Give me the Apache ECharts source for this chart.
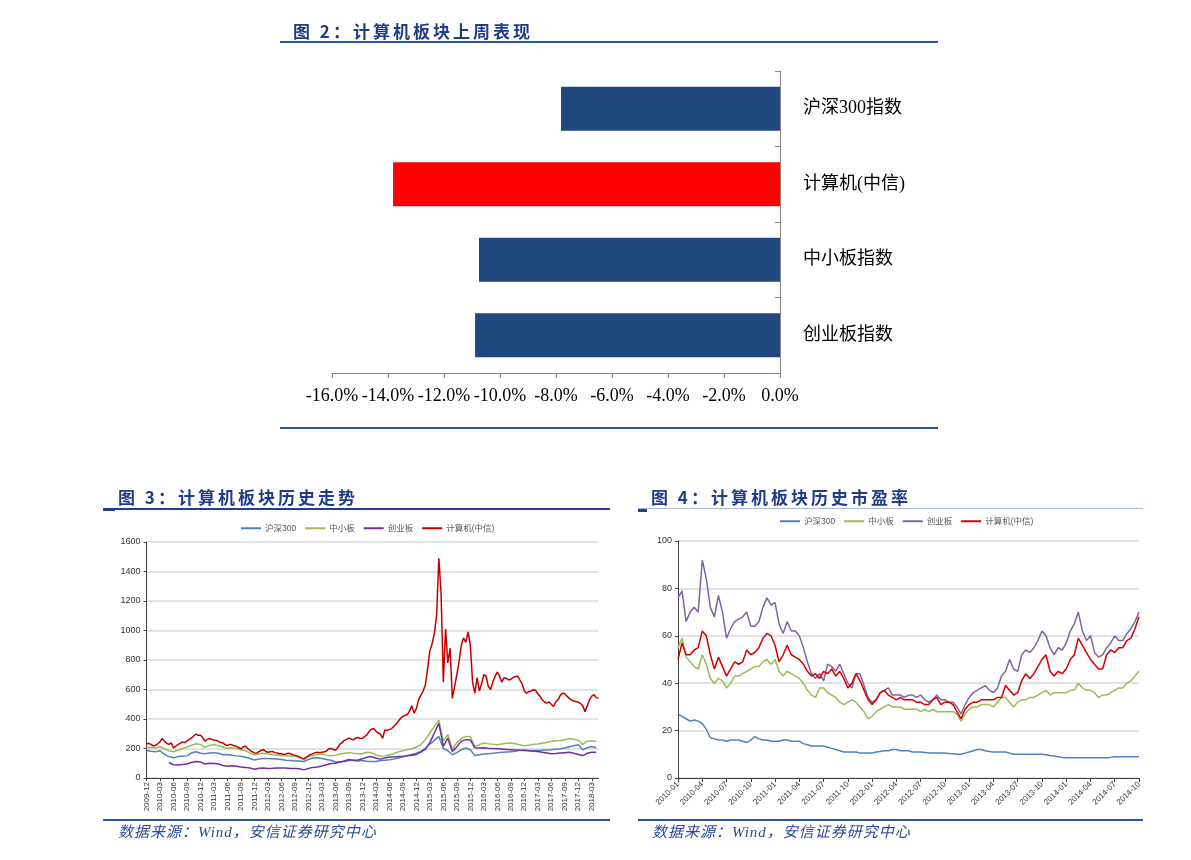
<!DOCTYPE html>
<html><head><meta charset="utf-8">
<script src="https://cdn.jsdelivr.net/npm/echarts@6/dist/echarts.min.js"></script>
<style>
html,body{margin:0;padding:0;background:#fff;}
#wrap{position:relative;width:1191px;height:860px;overflow:hidden;background:#fff;}
#chart{position:absolute;left:0;top:0;width:1191px;height:860px;}
.t{position:absolute;font-family:"Noto Sans CJK SC",sans-serif;font-weight:bold;font-size:17px;color:#1F3C88;letter-spacing:3px;white-space:nowrap;line-height:20px;z-index:2;}
.rule{position:absolute;background:#2E53A3;z-index:2;}
.src{position:absolute;font-family:"Liberation Serif","Noto Sans CJK SC",serif;font-style:italic;font-size:15px;color:#2A4A9A;letter-spacing:1px;white-space:nowrap;line-height:18px;padding-right:6px;z-index:2;}
</style></head>
<body>
<div id="wrap">
  <div id="chart"></div>
  <div class="t" style="left:293px;top:21px;">图 2：计算机板块上周表现</div>
  <div class="rule" style="left:280px;top:41px;width:658px;height:2px;"></div>
  <div class="rule" style="left:280px;top:427px;width:658px;height:2px;"></div>

  <div class="t" style="left:118px;top:487px;">图 3：计算机板块历史走势</div>
  <div class="rule" style="left:103px;top:508px;width:507px;height:2px;background:#203F8C;"></div>
  <div class="rule" style="left:103px;top:508px;width:12px;height:3px;background:#203F8C;"></div>
  <div class="rule" style="left:103px;top:819px;width:507px;height:2px;"></div>
  <div class="src" style="left:118px;top:823px;">数据来源：Wind，安信证券研究中心</div>

  <div class="t" style="left:651px;top:487px;">图 4：计算机板块历史市盈率</div>
  <div class="rule" style="left:638px;top:508px;width:505px;height:1px;background:#A9B8D6;"></div>
  <div class="rule" style="left:638px;top:509px;width:9px;height:3px;background:#203F8C;"></div>
  <div class="rule" style="left:638px;top:819px;width:505px;height:2px;"></div>
  <div class="src" style="left:652px;top:823px;">数据来源：Wind，安信证券研究中心</div>
</div>
<script>
// ---------- Figure 2: weekly performance (%) ----------
const cat2 = ['沪深300指数', '计算机(中信)', '中小板指数', '创业板指数'];
const weekly2 = [-7.82, -13.82, -10.75, -10.89];
const highlight2 = '计算机(中信)';
const ticks2 = ['-16.0%', '-14.0%', '-12.0%', '-10.0%', '-8.0%', '-6.0%', '-4.0%', '-2.0%', '0.0%'];

// ---------- Legend names ----------
const names = ['沪深300', '中小板', '创业板', '计算机(中信)'];

// ---------- Figure 3: history index, x = months since 2009-12 ----------
const ticks3 = ['2009-12','2010-03','2010-06','2010-09','2010-12','2011-03','2011-06','2011-09','2011-12','2012-03','2012-06','2012-09','2012-12','2013-03','2013-06','2013-09','2013-12','2014-03','2014-06','2014-09','2014-12','2015-03','2015-06','2015-09','2015-12','2016-03','2016-06','2016-09','2016-12','2017-03','2017-06','2017-09','2017-12','2018-03'];
// monthly, from 2009-12
const hs300_3 = [187,182,178,185,160,145,138,145,148,150,
 170,178,168,165,170,172,168,158,160,155,
 150,148,140,132,122,128,132,132,130,128,
 126,120,118,115,116,112,125,135,138,132,
 125,120,108,110,112,118,118,116,118,114,
 112,112,119,121,124,128,135,144,152,160,
 168,180,200,230,255,282,200,185,158,172,
 192,203,192,152,158,162,165,168,172,174,
 176,178,182,188,190,187,186,187,188,190,
 192,195,198,203,212,218,225,192,205,214,
 205];
const sme_3 = [205,208,205,212,198,185,178,188,200,210,
 222,232,228,208,222,225,218,210,200,205,
 200,192,185,170,155,163,168,162,158,155,
 152,150,150,148,138,128,145,152,160,162,
 155,150,155,162,168,172,168,165,165,175,
 172,158,148,150,158,165,178,185,192,198,
 210,225,262,305,350,392,250,295,195,240,
 268,282,280,215,225,238,232,228,225,230,
 235,237,232,225,218,222,228,230,235,240,
 248,252,255,260,268,262,255,228,250,252,
 248];
// monthly, from 2010-05
const gem_3 = [105,90,88,92,95,
 105,112,108,95,100,98,95,85,80,83,
 80,75,72,68,60,66,68,65,66,68,
 68,67,65,64,62,55,65,72,75,82,
 90,98,100,108,115,125,120,122,130,140,
 145,135,128,135,142,143,145,146,150,155,
 160,175,195,240,305,370,215,270,180,212,
 250,260,258,205,203,205,202,200,198,196,
 194,192,190,188,187,185,182,180,175,170,
 165,166,170,172,174,168,160,152,168,175,
 174];
// half-monthly, from 2009-12
const comp_3 = [230,235,228,218,222,232,245,268,250,235,
 228,238,205,215,228,235,245,240,252,262,
 272,285,298,290,290,275,250,262,268,262,
 258,255,248,240,238,225,220,228,225,218,
 215,205,198,210,216,200,188,178,170,168,
 178,188,192,180,175,178,180,172,170,165,
 165,160,162,168,165,158,155,150,142,135,
 128,140,150,160,165,172,175,172,175,178,
 182,198,200,195,188,205,230,240,255,262,
 270,265,258,270,275,268,270,280,292,315,
 330,335,318,305,298,270,325,322,328,335,
 350,365,385,405,418,425,430,455,490,440,
 470,530,560,590,630,740,860,910,980,1100,
 1490,1250,650,1010,780,880,540,620,700,790,
 900,950,920,990,900,650,575,680,590,640,
 700,690,620,600,650,690,718,690,650,680,
 675,665,670,680,688,690,665,640,590,575,
 585,590,598,595,570,555,530,515,508,515,
 500,485,515,530,560,575,572,555,540,528,
 522,518,515,505,490,450,490,530,555,565,
 545,540];

// ---------- Figure 4: history P/E, half-monthly from 2010-01 ----------
const ticks4 = ['2010-01','2010-04','2010-07','2010-10','2011-01','2011-04','2011-07','2011-10','2012-01','2012-04','2012-07','2012-10','2013-01','2013-04','2013-07','2013-10','2014-01','2014-04','2014-07','2014-10'];
const hs300_4 = [27,26,25,24,24.5,24,23,20.5,17,16.5,
 16,16,15.5,16,16,16,15.5,15,16,17.5,
 16.5,16,16,15.5,15.5,15.5,16,16,15.5,15.5,
 15.5,14.5,14,13.5,13.5,13.5,13.5,13,12.5,12,
 11.5,11,11,11,11,10.5,10.5,10.5,10.5,11,
 11.2,11.5,11.5,12,12,11.5,11.5,11.5,11,11,
 11,10.8,10.6,10.5,10.5,10.5,10.5,10.3,10.2,10,
 10,10.5,11,11.5,12,12,11.5,11.2,11,11,
 11,11,10.5,10,10,10,10,10,10,10,
 10,9.8,9.5,9.3,9,8.7,8.5,8.5,8.5,8.5,
 8.5,8.5,8.5,8.5,8.5,8.5,8.5,8.7,9,9,
 9,9,9,9,9];
const sme_4 = [55,59,51,49,47,46,52,48,42,40,
 42,41,38,40,43,43,44,45,46,47,
 47,49,50,48,50,45,43,45,44,43,
 42,40,37,35,34,38,38,36,35,34,
 32,31,32,33,32,30,28,25,26,28,
 29,30,31,30,30,30,29,29,29,29,
 28,29,28,29,28,28,28,28,28,27,
 24,27,29,30,30,31,31,31,30,32,
 34,34,32,30,32,33,33,34,34,35,
 36,37,35,36,36,36,36,37,37,40,
 38,37,37,36,34,35,35,36,37,38,
 38,40,41,43,45];
const gem_4 = [76,79,66,70,72,70,92,84,72,68,
 77,70,59,63,66,67,68,70,64,64,
 66,72,76,73,74,65,61,66,62,62,
 60,55,49,44,42,44,41,48,47,45,
 48,44,40,38,44,44,39,34,32,33,
 36,37,38,35,35,35,34,35,35,34,
 35,33,32,33,35,33,33,32,32,30,
 27,31,34,36,37,38,39,37,36,38,
 43,45,50,46,45,52,54,53,55,58,
 62,60,55,52,55,54,57,62,65,70,
 62,58,60,53,51,52,55,57,60,58,
 58,61,63,66,70];
const comp_4 = [50,57,52,52,54,55,62,60,52,46,
 51,47,43,46,49,48,49,54,52,53,
 55,59,61,60,56,49,52,56,52,51,
 50,48,45,43,44,42,45,44,46,43,
 45,42,38,40,44,41,37,33,31,33,
 36,37,35,34,33,34,33,33,33,32,
 32,31,31,33,34,31,32,32,31,28,
 25,29,31,32,32,33,33,33,33,34,
 34,39,37,35,36,41,44,42,44,47,
 50,52,45,43,45,44,46,50,52,59,
 56,53,50,48,46,46,52,54,53,55,
 55,58,59,63,68];

function pairs(arr, start, step) { return arr.map((v, i) => [start + i * step, v]); }

const latin = '"Liberation Sans","Noto Sans CJK SC",sans-serif';
const serif = '"Liberation Serif","Noto Sans CJK SC",serif';
const smallLbl = {fontFamily: latin, fontSize: 9, color: '#333'};
const gridLine = {show: true, lineStyle: {color: '#D9D9D9', width: 1.5}};
const darkAxis = {show: true, onZero: false, lineStyle: {color: '#404040', width: 1}};

function lineSeries(name, data, color, xi) {
  return {name: name, type: 'line', xAxisIndex: xi, yAxisIndex: xi, data: data,
    showSymbol: false, symbol: 'none', color: color,
    lineStyle: {color: color, width: 1.5}, emphasis: {disabled: true}};
}

const c3 = ['#4F81BD', '#9BBB59', '#7030A0', '#C00000'];
const c4 = ['#4F81BD', '#9BBB59', '#8064A2', '#D40000'];

function legendOf(left, top, cols) {
  return {left: left, top: top, icon: 'rect', itemWidth: 20, itemHeight: 2, itemGap: 9,
    data: names.map((n, i) => ({name: n, itemStyle: {color: cols[i]}})),
    textStyle: {fontFamily: latin, fontSize: 8.5, color: '#595959', padding: [0, 0, 0, -1]},
    selectedMode: false};
}

const chart = echarts.init(document.getElementById('chart'), null, {renderer: 'canvas'});
chart.setOption({
  animation: false,
  backgroundColor: '#fff',
  grid: [
    {left: 332, top: 71, width: 448, height: 302},
    {left: 146.5, top: 542, width: 452, height: 236},
    {left: 678, top: 541, width: 461, height: 237}
  ],
  legend: [legendOf(236, 519, c3), legendOf(775, 512, c4)],
  xAxis: [
    {gridIndex: 0, type: 'value', min: -16, max: 0, interval: 2,
      axisLine: {show: true, onZero: false, lineStyle: {color: '#868686'}},
      axisTick: {show: true, length: 5, lineStyle: {color: '#868686'}},
      axisLabel: {margin: 14, fontFamily: serif, fontSize: 18, color: '#000',
        formatter: v => { const i = Math.round((v + 16) / 2); return ticks2[i] || ''; }},
      splitLine: {show: false}},
    {gridIndex: 1, type: 'value', min: 0, max: 100.5, interval: 3,
      axisLine: darkAxis,
      axisTick: {show: true, length: 3, lineStyle: {color: '#404040'}},
      axisLabel: Object.assign({}, smallLbl, {fontSize: 8, rotate: 90, margin: 4,
        showMaxLabel: false,
        formatter: v => { const q = v / 3; return Number.isInteger(q) ? (ticks3[q] || '') : ''; }}),
      splitLine: {show: false}},
    {gridIndex: 2, type: 'value', min: 0, max: 57, interval: 3,
      axisLine: darkAxis,
      axisTick: {show: true, length: 4, lineStyle: {color: '#404040'}},
      axisLabel: Object.assign({}, smallLbl, {fontSize: 8, rotate: 45, margin: 5,
        formatter: v => { const q = v / 3; return Number.isInteger(q) ? (ticks4[q] || '') : ''; }}),
      splitLine: {show: false}}
  ],
  yAxis: [
    {gridIndex: 0, type: 'category', data: cat2, inverse: true, position: 'right',
      axisLine: {show: true, onZero: false, lineStyle: {color: '#868686'}},
      axisTick: {show: true, inside: true, length: 5, lineStyle: {color: '#868686'}},
      axisLabel: {margin: 23, fontFamily: serif, fontSize: 18, color: '#000'},
      splitLine: {show: false}},
    {gridIndex: 1, type: 'value', min: 0, max: 1600, interval: 200,
      axisLine: darkAxis,
      axisTick: {show: true, length: 3, lineStyle: {color: '#404040'}},
      axisLabel: Object.assign({}, smallLbl, {margin: 6, formatter: v => String(v)}),
      splitLine: gridLine},
    {gridIndex: 2, type: 'value', min: 0, max: 100, interval: 20,
      axisLine: darkAxis,
      axisTick: {show: true, length: 3, lineStyle: {color: '#404040'}},
      axisLabel: Object.assign({}, smallLbl, {margin: 6, formatter: v => String(v)}),
      splitLine: gridLine}
  ],
  series: [
    {name: '上周涨跌幅', type: 'bar', xAxisIndex: 0, yAxisIndex: 0, barWidth: 44,
      data: weekly2.map((v, i) => ({value: v,
        itemStyle: {color: cat2[i] === highlight2 ? '#FF0000' : '#1F497D'}})),
      emphasis: {disabled: true}},
    lineSeries('沪深300', pairs(hs300_3, 0, 1), c3[0], 1),
    lineSeries('中小板', pairs(sme_3, 0, 1), c3[1], 1),
    lineSeries('创业板', pairs(gem_3, 5, 1), c3[2], 1),
    lineSeries('计算机(中信)', pairs(comp_3, 0, 0.5), c3[3], 1),
    lineSeries('沪深300', pairs(hs300_4, 0, 0.5), c4[0], 2),
    lineSeries('中小板', pairs(sme_4, 0, 0.5), c4[1], 2),
    lineSeries('创业板', pairs(gem_4, 0, 0.5), c4[2], 2),
    lineSeries('计算机(中信)', pairs(comp_4, 0, 0.5), c4[3], 2)
  ]
});
</script>
</body></html>
